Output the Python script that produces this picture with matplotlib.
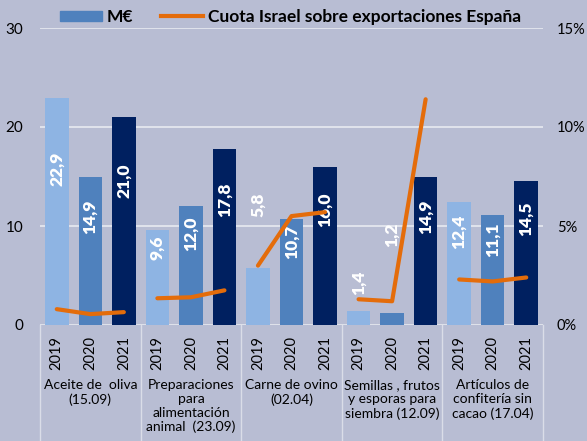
import matplotlib.pyplot as plt
import matplotlib.transforms as mtransforms
from matplotlib.patches import Patch
from matplotlib.lines import Line2D

plt.rcParams['font.family'] = ['Lato', 'DejaVu Sans']

categories = ["Aceite de  oliva\n(15.09)",
              "Preparaciones\npara\nalimentación\nanimal  (23.09)",
              "Carne de ovino\n(02.04)",
              "Semillas , frutos\ny esporas para\nsiembra (12.09)",
              "Artículos de\nconfitería sin\ncacao (17.04)"]
years = ["2019", "2020", "2021"]

# M€ por producto y año (2019, 2020, 2021)
valores = [[22.9, 14.9, 21.0],
           [9.6, 12.0, 17.8],
           [5.8, 10.7, 16.0],
           [1.4, 1.2, 14.9],
           [12.4, 11.1, 14.5]]

# cuota Israel sobre exportaciones España (%)
cuota = [[0.8, 0.55, 0.65],
         [1.35, 1.4, 1.75],
         [3.0, 5.5, 5.7],
         [1.3, 1.2, 11.4],
         [2.3, 2.2, 2.4]]

bg = "#B8BDD3"
year_colors = ["#8EB4E3", "#4F81BD", "#002060"]
orange = "#E46C0A"

fig = plt.figure(figsize=(5.87, 4.41), dpi=100, facecolor=bg)
ax = fig.add_axes([40 / 587, 1 - 325 / 441, 503 / 587, 297 / 441])
ax.set_facecolor(bg)
ax2 = ax.twinx()

# etiquetas fuera de la barra (posicion manual como en el original)
label_y_override = {(2, 0): 12.1, (3, 0): 4.3, (3, 1): 9.1}

xt = []
for g, vals in enumerate(valores):
    for i, v in enumerate(vals):
        x = g * 3 + i
        xt.append(x)
        ax.bar(x, v, width=0.7, color=year_colors[i], zorder=2)
        ly = label_y_override.get((g, i), 0.6 * v + 2)
        ax.text(x, ly, f"{v:.1f}".replace(".", ","), rotation=90,
                ha="center", va="center", color="white",
                fontsize=12.5, fontweight="heavy", zorder=4)
    xs = [g * 3 + i for i in range(3)]
    ax2.plot(xs, cuota[g], color=orange, lw=3, solid_capstyle="round", zorder=3)

ax.set_xlim(-0.5, 14.5)
ax.set_ylim(0, 30)
ax2.set_ylim(0, 15)
ax.set_yticks([0, 10, 20, 30])
ax2.set_yticks([0, 5, 10, 15])
ax2.set_yticklabels(["0%", "5%", "10%", "15%"])
ax.set_xticks(xt)
ax.set_xticklabels(years * 5, rotation=90, fontsize=10.5)

for a in (ax, ax2):
    for s in a.spines.values():
        s.set_visible(False)
    a.tick_params(length=0, labelsize=11)
ax.tick_params(axis="y", pad=12)
ax2.tick_params(axis="y", pad=10, labelsize=10.5)
ax.tick_params(axis="x", pad=8, labelsize=10.5)

ax.grid(axis="y", color="#E4E6EE", lw=1.3, zorder=0)
ax.set_axisbelow(True)
ax.axhline(0, color="#DADDE8", lw=1, zorder=1)

trans = mtransforms.blended_transform_factory(ax.transData, ax.transAxes)
for g in range(6):
    ax.plot([g * 3 - 0.5, g * 3 - 0.5], [0, -0.4], transform=trans,
            color="#DADDE8", lw=1, clip_on=False)
for g, name in enumerate(categories):
    ax.text(g * 3 + 1, -0.183, name, transform=trans, ha="center", va="top",
            fontsize=10, linespacing=1.18)

handles = [Patch(color=year_colors[1]), Line2D([0], [0], color=orange, lw=3)]
fig.legend(handles, ["M€", "Cuota Israel sobre exportaciones España"],
           loc="center", bbox_to_anchor=(0.495, 1 - 17 / 441), ncol=2,
           frameon=False, prop={"weight": "bold", "size": 12.5},
           handlelength=2.4, handleheight=0.5, handletextpad=0.3,
           columnspacing=1.6)

fig.savefig("out.png", dpi=100, facecolor=bg)
